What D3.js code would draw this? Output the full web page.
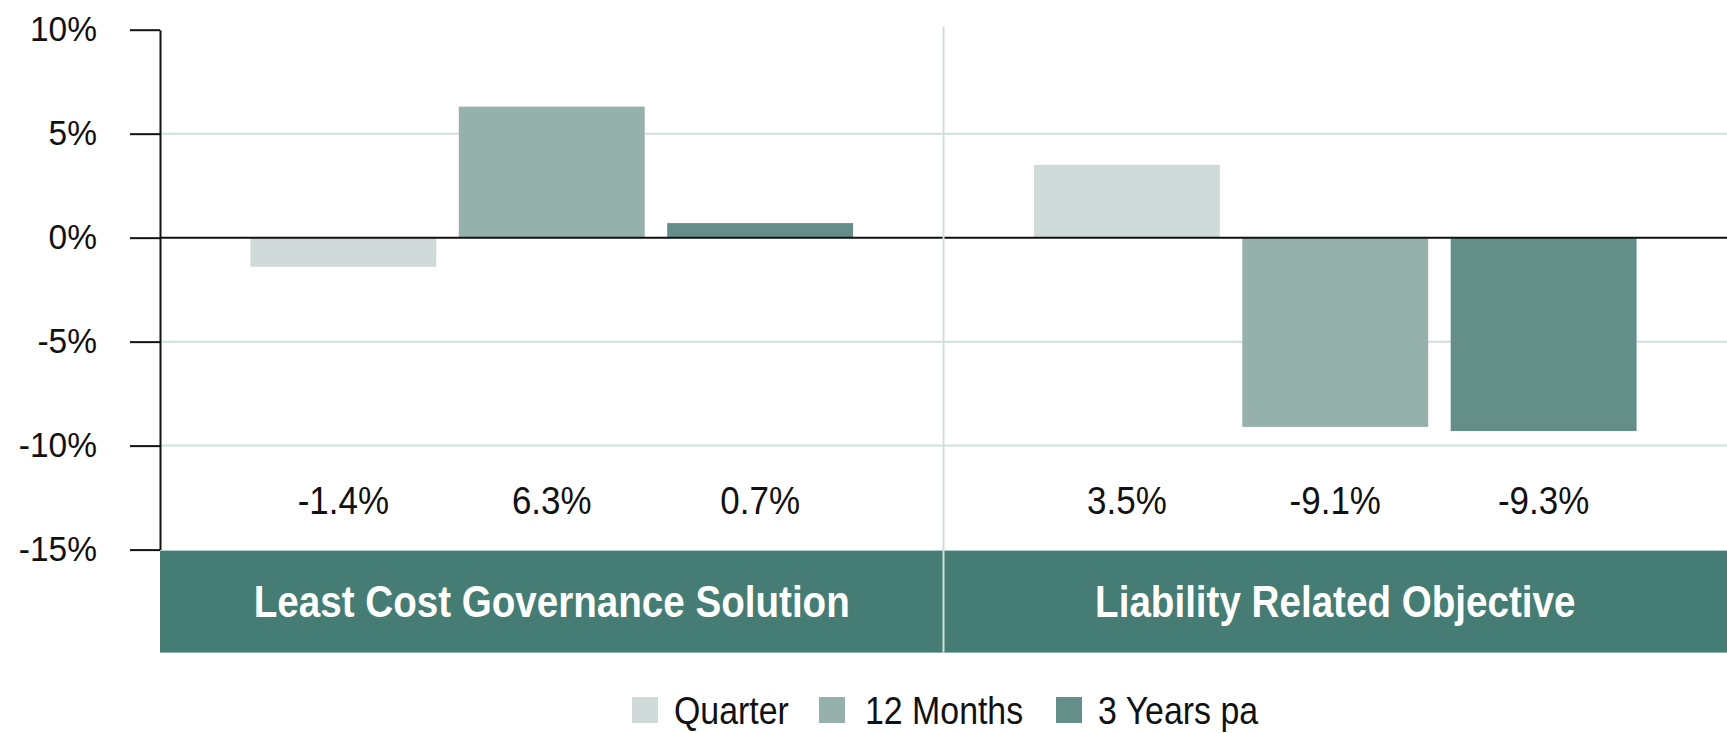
<!DOCTYPE html>
<html>
<head>
<meta charset="utf-8">
<script src="https://cdn.jsdelivr.net/npm/d3@7"></script>
<style>
  body { margin: 0; background: #fff; }
  svg text { font-family: "Liberation Sans", Arial, sans-serif; }
</style>
</head>
<body>
<div id="chart"></div>
<script>
// data
const groups = ["Least Cost Governance Solution", "Liability Related Objective"];
const periods = ["Quarter", "12 Months", "3 Years pa"];
const quarter = [-1.4, 3.5];
const months12 = [6.3, -9.1];
const years3 = [0.7, -9.3];
const yTicks = [-15, -10, -5, 0, 5, 10];
const colors = ["#d0dad8", "#96b0ac", "#638f88"];

let config = {
    div: '#chart',
    width: 1727,
    height: 733,
    top: 29.7,
    left: 160,
    bottom: 183.4,
    right: 0
};

const svg = d3.select(config.div)
    .append("svg")
    .attr("width", config.width)
    .attr("height", config.height);

const innerBottom = config.height - config.bottom;

let y = d3.scaleLinear()
    .domain([-15, 10])
    .range([innerBottom, config.top]);

let x0 = d3.scaleBand()
    .domain(groups)
    .range([config.left, config.width - config.right])
    .padding(0);

let x1 = d3.scaleBand()
    .domain(periods)
    .range([0, x0.bandwidth()])
    .paddingInner(0.108)
    .paddingOuter(0.434);

let color = d3.scaleOrdinal().domain(periods).range(colors);

let data = [];
groups.forEach((g, i) => {
    data.push({group: g, period: periods[0], value: quarter[i]});
    data.push({group: g, period: periods[1], value: months12[i]});
    data.push({group: g, period: periods[2], value: years3[i]});
});

// the source uses a condensed face, so squeeze text horizontally
const squeeze = (x, yy, sx) => `translate(${x},${yy}) scale(${sx},1)`;

// gridlines
svg.append("g")
    .selectAll("line")
    .data(yTicks.filter(d => d !== 0 && d !== 10 && d !== -15))
    .join("line")
    .attr("x1", config.left)
    .attr("x2", config.width)
    .attr("y1", d => y(d))
    .attr("y2", d => y(d))
    .attr("stroke", "#cfdfde")
    .attr("stroke-width", 2);

// bars
svg.append("g")
    .selectAll("rect")
    .data(data)
    .join("rect")
    .attr("x", d => x0(d.group) + x1(d.period))
    .attr("width", x1.bandwidth())
    .attr("y", d => y(Math.max(0, d.value)))
    .attr("height", d => Math.abs(y(d.value) - y(0)))
    .attr("fill", d => color(d.period));

// zero line
svg.append("line")
    .attr("x1", config.left)
    .attr("x2", config.width)
    .attr("y1", y(0))
    .attr("y2", y(0))
    .attr("stroke", "#111")
    .attr("stroke-width", 2);

// value labels
svg.append("g")
    .selectAll("text")
    .data(data)
    .join("text")
    .attr("transform", d => squeeze(x0(d.group) + x1(d.period) + x1.bandwidth() / 2, 514, 0.92))
    .attr("text-anchor", "middle")
    .attr("font-size", 38)
    .attr("fill", "#111")
    .text(d => d.value.toFixed(1) + "%");

// category band
const band = svg.append("g");
band.selectAll("rect")
    .data(groups)
    .join("rect")
    .attr("x", d => x0(d))
    .attr("width", x0.bandwidth())
    .attr("y", innerBottom + 1)
    .attr("height", 102)
    .attr("fill", "#457c74");
band.selectAll("text")
    .data(groups)
    .join("text")
    .attr("transform", d => squeeze(x0(d) + x0.bandwidth() / 2, 617, 0.877))
    .attr("text-anchor", "middle")
    .attr("font-size", 44)
    .attr("font-weight", "bold")
    .attr("fill", "#fff")
    .text(d => d);

// divider between groups
svg.append("line")
    .attr("x1", x0(groups[1]))
    .attr("x2", x0(groups[1]))
    .attr("y1", config.top - 3)
    .attr("y2", innerBottom + 103)
    .attr("stroke", "#cfdfde")
    .attr("stroke-width", 2);

// y axis
let yAxis = d3.axisLeft(y)
    .tickValues(yTicks)
    .tickSize(30)
    .tickSizeOuter(0)
    .tickFormat(d => d + "%");

svg.append("g")
    .attr("transform", `translate(${config.left},0)`)
    .call(yAxis)
    .call(g => g.select(".domain").attr("stroke", "#111").attr("stroke-width", 2))
    .call(g => g.selectAll(".tick line").attr("stroke", "#111").attr("stroke-width", 2))
    .call(g => g.selectAll(".tick text")
        .attr("x", null)
        .attr("transform", squeeze(-63, 0, 0.957))
        .attr("font-size", 35)
        .attr("fill", "#111")
        .attr("font-family", null));

// legend
const legendItems = [
    {name: periods[0], sx: 632, tx: 674},
    {name: periods[1], sx: 819, tx: 865},
    {name: periods[2], sx: 1056, tx: 1098}
];
const legend = svg.append("g");
legend.selectAll("rect")
    .data(legendItems)
    .join("rect")
    .attr("x", d => d.sx)
    .attr("y", 697)
    .attr("width", 26)
    .attr("height", 26)
    .attr("fill", d => color(d.name));
legend.selectAll("text")
    .data(legendItems)
    .join("text")
    .attr("transform", d => squeeze(d.tx, 724, 0.88))
    .attr("font-size", 38.5)
    .attr("fill", "#111")
    .text(d => d.name);
</script>
</body>
</html>
